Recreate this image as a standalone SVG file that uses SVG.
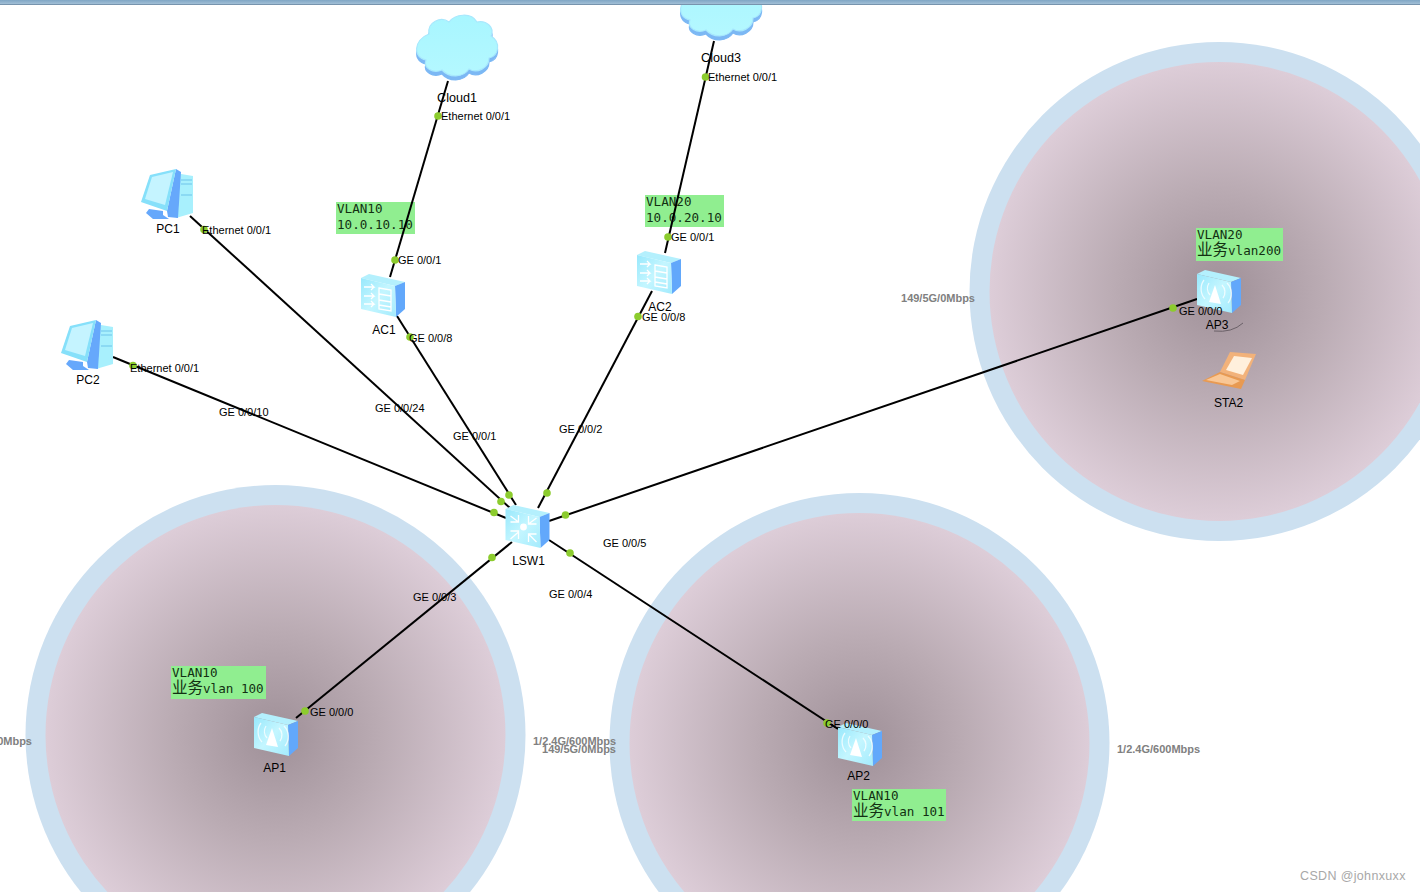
<svg xmlns="http://www.w3.org/2000/svg" xmlns:xlink="http://www.w3.org/1999/xlink" width="1420" height="892" viewBox="0 0 1420 892">
<style>
text{font-family:"Liberation Sans",Arial,sans-serif;fill:#000}
.n{font-size:12px;text-anchor:middle}
.nc{font-size:12.600px;text-anchor:middle}
.p{font-size:11px}
.r{font-size:11px;font-weight:bold;fill:#808080}
.e{text-anchor:end}
.m{font-family:"DejaVu Sans Mono","Liberation Mono","Noto Sans CJK SC",monospace;font-size:12.6px;fill:#123012}
.c{font-family:"Noto Sans CJK SC","DejaVu Sans",sans-serif;font-size:15.500px}
.note{fill:#90ee90}
.ring{fill:#cce0f0}
.cell{fill:url(#cellG)}
.l{stroke:#000;stroke-width:2;fill:none}
.d{fill:#8ccc2e}
.g{fill:none;stroke:#fff;stroke-width:1.3}
</style>
<defs>
<radialGradient id="cellG"><stop offset="0" stop-color="#9f9098"/><stop offset=".45" stop-color="#baabb3"/><stop offset="1" stop-color="#ddcdd8"/></radialGradient>
<linearGradient id="face" x1="0" y1="0" x2="1" y2="1"><stop offset="0" stop-color="#98e8fc"/><stop offset=".5" stop-color="#c4f6ff"/><stop offset="1" stop-color="#a4ebfd"/></linearGradient>
<linearGradient id="bar" x1="0" y1="0" x2="0" y2="1"><stop offset="0" stop-color="#7fa6c4"/><stop offset=".7" stop-color="#9dbcd4"/><stop offset="1" stop-color="#64809a"/></linearGradient>
<linearGradient id="cloudG" x1="0" y1="0" x2="0" y2="1"><stop offset="0" stop-color="#a8f6ff"/><stop offset="1" stop-color="#b4f8ff"/></linearGradient>
<g id="box">
<polygon points="0,4 8,0 44,8 34,12" fill="#b4f0fd"/>
<polygon points="34,12 44,8 44,35 35,43" fill="#62a8fb"/>
<polygon points="0,4 34,12 35,43 0,35" fill="url(#face)"/>
</g>
<g id="ap">
<use xlink:href="#box" href="#box"/>
<path d="M12,32 L18,15 L24,34Z" fill="#fff"/>
<path d="M12,13a10,10 0 0 0 1,12M25,15a10,10 0 0 1 1,13M7,10a15,15 0 0 0 1,19M30,13a15,15 0 0 1 1,20" class="g" stroke-opacity=".75" stroke-width="1.600"/>
</g>
<g id="ac">
<use xlink:href="#box" href="#box"/>
<path d="M3,13h10l-3,-3M13,13l-3,3M3,22h10l-3,-3M13,22l-3,3M3,30h10l-3,-3M13,30l-3,3" class="g" stroke-width="2"/>
<path d="M18,14l12,2v21l-12,-2ZM18,20l12,2M18,26l12,2M18,31l12,2" class="g"/>
</g>
<g id="sw">
<use xlink:href="#box" href="#box"/>
<circle cx="18" cy="22" r="3.400" fill="#fff"/>
<path d="M5,11l8,6M13,10v7h-8M31,13l-8,6M23,11v8h8M5,34l8,-7M5,26h8v8M31,37l-8,-8M23,37v-8h8" class="g" stroke-width="2.300"/>
</g>
<g id="pc">
<polygon points="34,4 52,7 52,44 35,49" fill="#a8f0fd"/>
<polygon points="26,42 35,0 40,3 37,49 27,48" fill="#66a8fb"/>
<polygon points="8,40 22,42 22,46 28,50 12,50 5,44" fill="#66a8fb"/>
<polygon points="0,33 9,6 35,0 26,42" fill="#86e0fa"/>
<polygon points="4,30 11,8 32,3 24,36" fill="#c5f4ff"/>
<path d="M40,11h11M40,15h11M40,26h11" stroke="#6fc4ea" stroke-width="1"/>
</g>
<path id="cloudP" d="M14,20 C12,8 26,2 34,8 C40,0 56,-2 62,8 C72,6 80,14 76,22 C86,28 84,42 74,44 C74,54 62,60 54,55 C48,64 34,64 27,56 C18,60 8,54 11,46 C-2,44 -2,26 14,20Z" stroke-width="1.200"/>
<g id="cloud">
<use xlink:href="#cloudP" href="#cloudP" y="4" fill="#7cb8f4" stroke="#7cb8f4"/>
<use xlink:href="#cloudP" href="#cloudP" fill="url(#cloudG)" stroke="#a8e8fd"/>
</g>
<g id="laptop">
<polygon points="18,22 28,2 54,4 43,30" fill="#f2b27a"/>
<polygon points="24,20 32,6 50,8 41,25" fill="#fff0dc"/>
<polygon points="0,31 18,22 43,30 39,39" fill="#e89a52"/>
<polygon points="4,30 18,24 38,31 30,35" fill="#f9c795"/>
</g>
</defs>
<rect width="1420" height="892" fill="#fff"/>

<g id="cells">
<circle class="ring" cx="275.500" cy="735" r="250"/><circle class="cell" cx="275.500" cy="735" r="230"/>
<circle class="ring" cx="859.500" cy="743" r="250"/><circle class="cell" cx="859.500" cy="743" r="230"/>
<circle class="ring" cx="1219" cy="291.500" r="249.500"/><circle class="cell" cx="1219" cy="291.500" r="229.500"/>
</g>
<g id="rates">
<text class="r e" x="32" y="745">149/5G/0Mbps</text>
<text class="r" x="533" y="745">1/2.4G/600Mbps</text>
<text class="r e" x="616" y="753">149/5G/0Mbps</text>
<text class="r" x="1117" y="753">1/2.4G/600Mbps</text>
<text class="r e" x="975" y="302">149/5G/0Mbps</text>
</g>
<g id="notes">
<rect class="note" x="336" y="202" width="79" height="32"/><text class="m" x="337" y="213">VLAN10</text><text class="m" x="337" y="229">10.0.10.10</text>
<rect class="note" x="645" y="195" width="79" height="32"/><text class="m" x="646" y="206">VLAN20</text><text class="m" x="646" y="222">10.0.20.10</text>
<rect class="note" x="1196" y="228" width="87" height="33"/><text class="m" x="1197" y="239">VLAN20</text><text class="m" x="1197" y="255"><tspan class="c">业务</tspan>vlan200</text>
<rect class="note" x="171" y="666" width="95" height="33"/><text class="m" x="172" y="677">VLAN10</text><text class="m" x="172" y="693"><tspan class="c">业务</tspan>vlan 100</text>
<rect class="note" x="852" y="789" width="94" height="32"/><text class="m" x="853" y="800">VLAN10</text><text class="m" x="853" y="816"><tspan class="c">业务</tspan>vlan 101</text>
</g>
<g id="connectors">
<path class="l" d="M448,81L390,277"/>
<path class="l" d="M397,316L516,505"/>
<path class="l" d="M714,41L665,253"/>
<path class="l" d="M652,291L538,508"/>
<path class="l" d="M190,216L510,508"/>
<path class="l" d="M113,357L506,518"/>
<path class="l" d="M549,521L1197,299"/>
<path class="l" d="M512,542L296,718"/>
<path class="l" d="M549,540L838,729"/>
</g>
<g id="Cloud1"><use xlink:href="#cloud" href="#cloud" x="415" y="14"/><text class="nc" x="457" y="102">Cloud1</text></g>
<g id="Cloud3"><use xlink:href="#cloud" href="#cloud" x="679" y="-26"/><text class="nc" x="721" y="62">Cloud3</text></g>
<g id="PC1"><use xlink:href="#pc" href="#pc" x="141" y="169"/><text class="n" x="168" y="233">PC1</text></g>
<g id="PC2"><use xlink:href="#pc" href="#pc" x="61" y="320"/><text class="n" x="88" y="384">PC2</text></g>
<g id="AC1"><use xlink:href="#ac" href="#ac" x="361" y="274"/><text class="n" x="384" y="334">AC1</text></g>
<g id="AC2"><use xlink:href="#ac" href="#ac" x="637" y="251"/><text class="n" x="660" y="311">AC2</text></g>
<g id="LSW1"><use xlink:href="#sw" href="#sw" x="505.500" y="505"/><text class="n" x="528.500" y="565">LSW1</text></g>
<g id="AP1"><use xlink:href="#ap" href="#ap" x="254" y="713"/><text class="n" x="274.500" y="772">AP1</text></g>
<g id="AP2"><use xlink:href="#ap" href="#ap" x="838" y="723"/><text class="n" x="858.500" y="780">AP2</text></g>
<g id="AP3"><use xlink:href="#ap" href="#ap" x="1197" y="270"/><text class="n" x="1217" y="329">AP3</text><path d="M1214,331Q1232,333 1243,323" fill="none" stroke="#6b6168" stroke-width="1"/></g>
<g id="STA2"><use xlink:href="#laptop" href="#laptop" x="1202" y="350"/><text class="n" x="1228.500" y="407">STA2</text></g>
<g id="ports">
<circle class="d" cx="438" cy="116" r="3.800"/><text class="p" x="441" y="120">Ethernet 0/0/1</text>
<circle class="d" cx="705.500" cy="77" r="3.800"/><text class="p" x="708" y="81">Ethernet 0/0/1</text>
<circle class="d" cx="204" cy="229.500" r="3.800"/><text class="p" x="202" y="234">Ethernet 0/0/1</text>
<circle class="d" cx="133" cy="365.500" r="3.800"/><text class="p" x="130" y="372">Ethernet 0/0/1</text>
<circle class="d" cx="395" cy="260" r="3.800"/><text class="p" x="398" y="264">GE 0/0/1</text>
<circle class="d" cx="410" cy="337" r="3.800"/><text class="p" x="409" y="342">GE 0/0/8</text>
<circle class="d" cx="668" cy="237" r="3.800"/><text class="p" x="671" y="241">GE 0/0/1</text>
<circle class="d" cx="638" cy="316.500" r="3.800"/><text class="p" x="642" y="321">GE 0/0/8</text>
<circle class="d" cx="501" cy="501.500" r="3.800"/><text class="p" x="375" y="412">GE 0/0/24</text>
<circle class="d" cx="509" cy="495" r="3.800"/><text class="p" x="453" y="440">GE 0/0/1</text>
<circle class="d" cx="494" cy="512.500" r="3.800"/><text class="p" x="219" y="416">GE 0/0/10</text>
<circle class="d" cx="547" cy="493" r="3.800"/><text class="p" x="559" y="433">GE 0/0/2</text>
<circle class="d" cx="565.500" cy="515" r="3.800"/><text class="p" x="603" y="547">GE 0/0/5</text>
<circle class="d" cx="570" cy="553" r="3.800"/><text class="p" x="549" y="598">GE 0/0/4</text>
<circle class="d" cx="492" cy="557.500" r="3.800"/><text class="p" x="413" y="601">GE 0/0/3</text>
<circle class="d" cx="305" cy="711" r="3.800"/><text class="p" x="310" y="716">GE 0/0/0</text>
<circle class="d" cx="827" cy="723" r="3.800"/><text class="p" x="825" y="728">GE 0/0/0</text>
<circle class="d" cx="1173" cy="308" r="3.800"/><text class="p" x="1179" y="315">GE 0/0/0</text>
</g>
<rect x="0" y="0" width="1420" height="5" fill="url(#bar)"/>
<text x="1300" y="880" font-size="12.500" letter-spacing=".35" style="fill:#a8a8a8">CSDN @johnxuxx</text>
</svg>
